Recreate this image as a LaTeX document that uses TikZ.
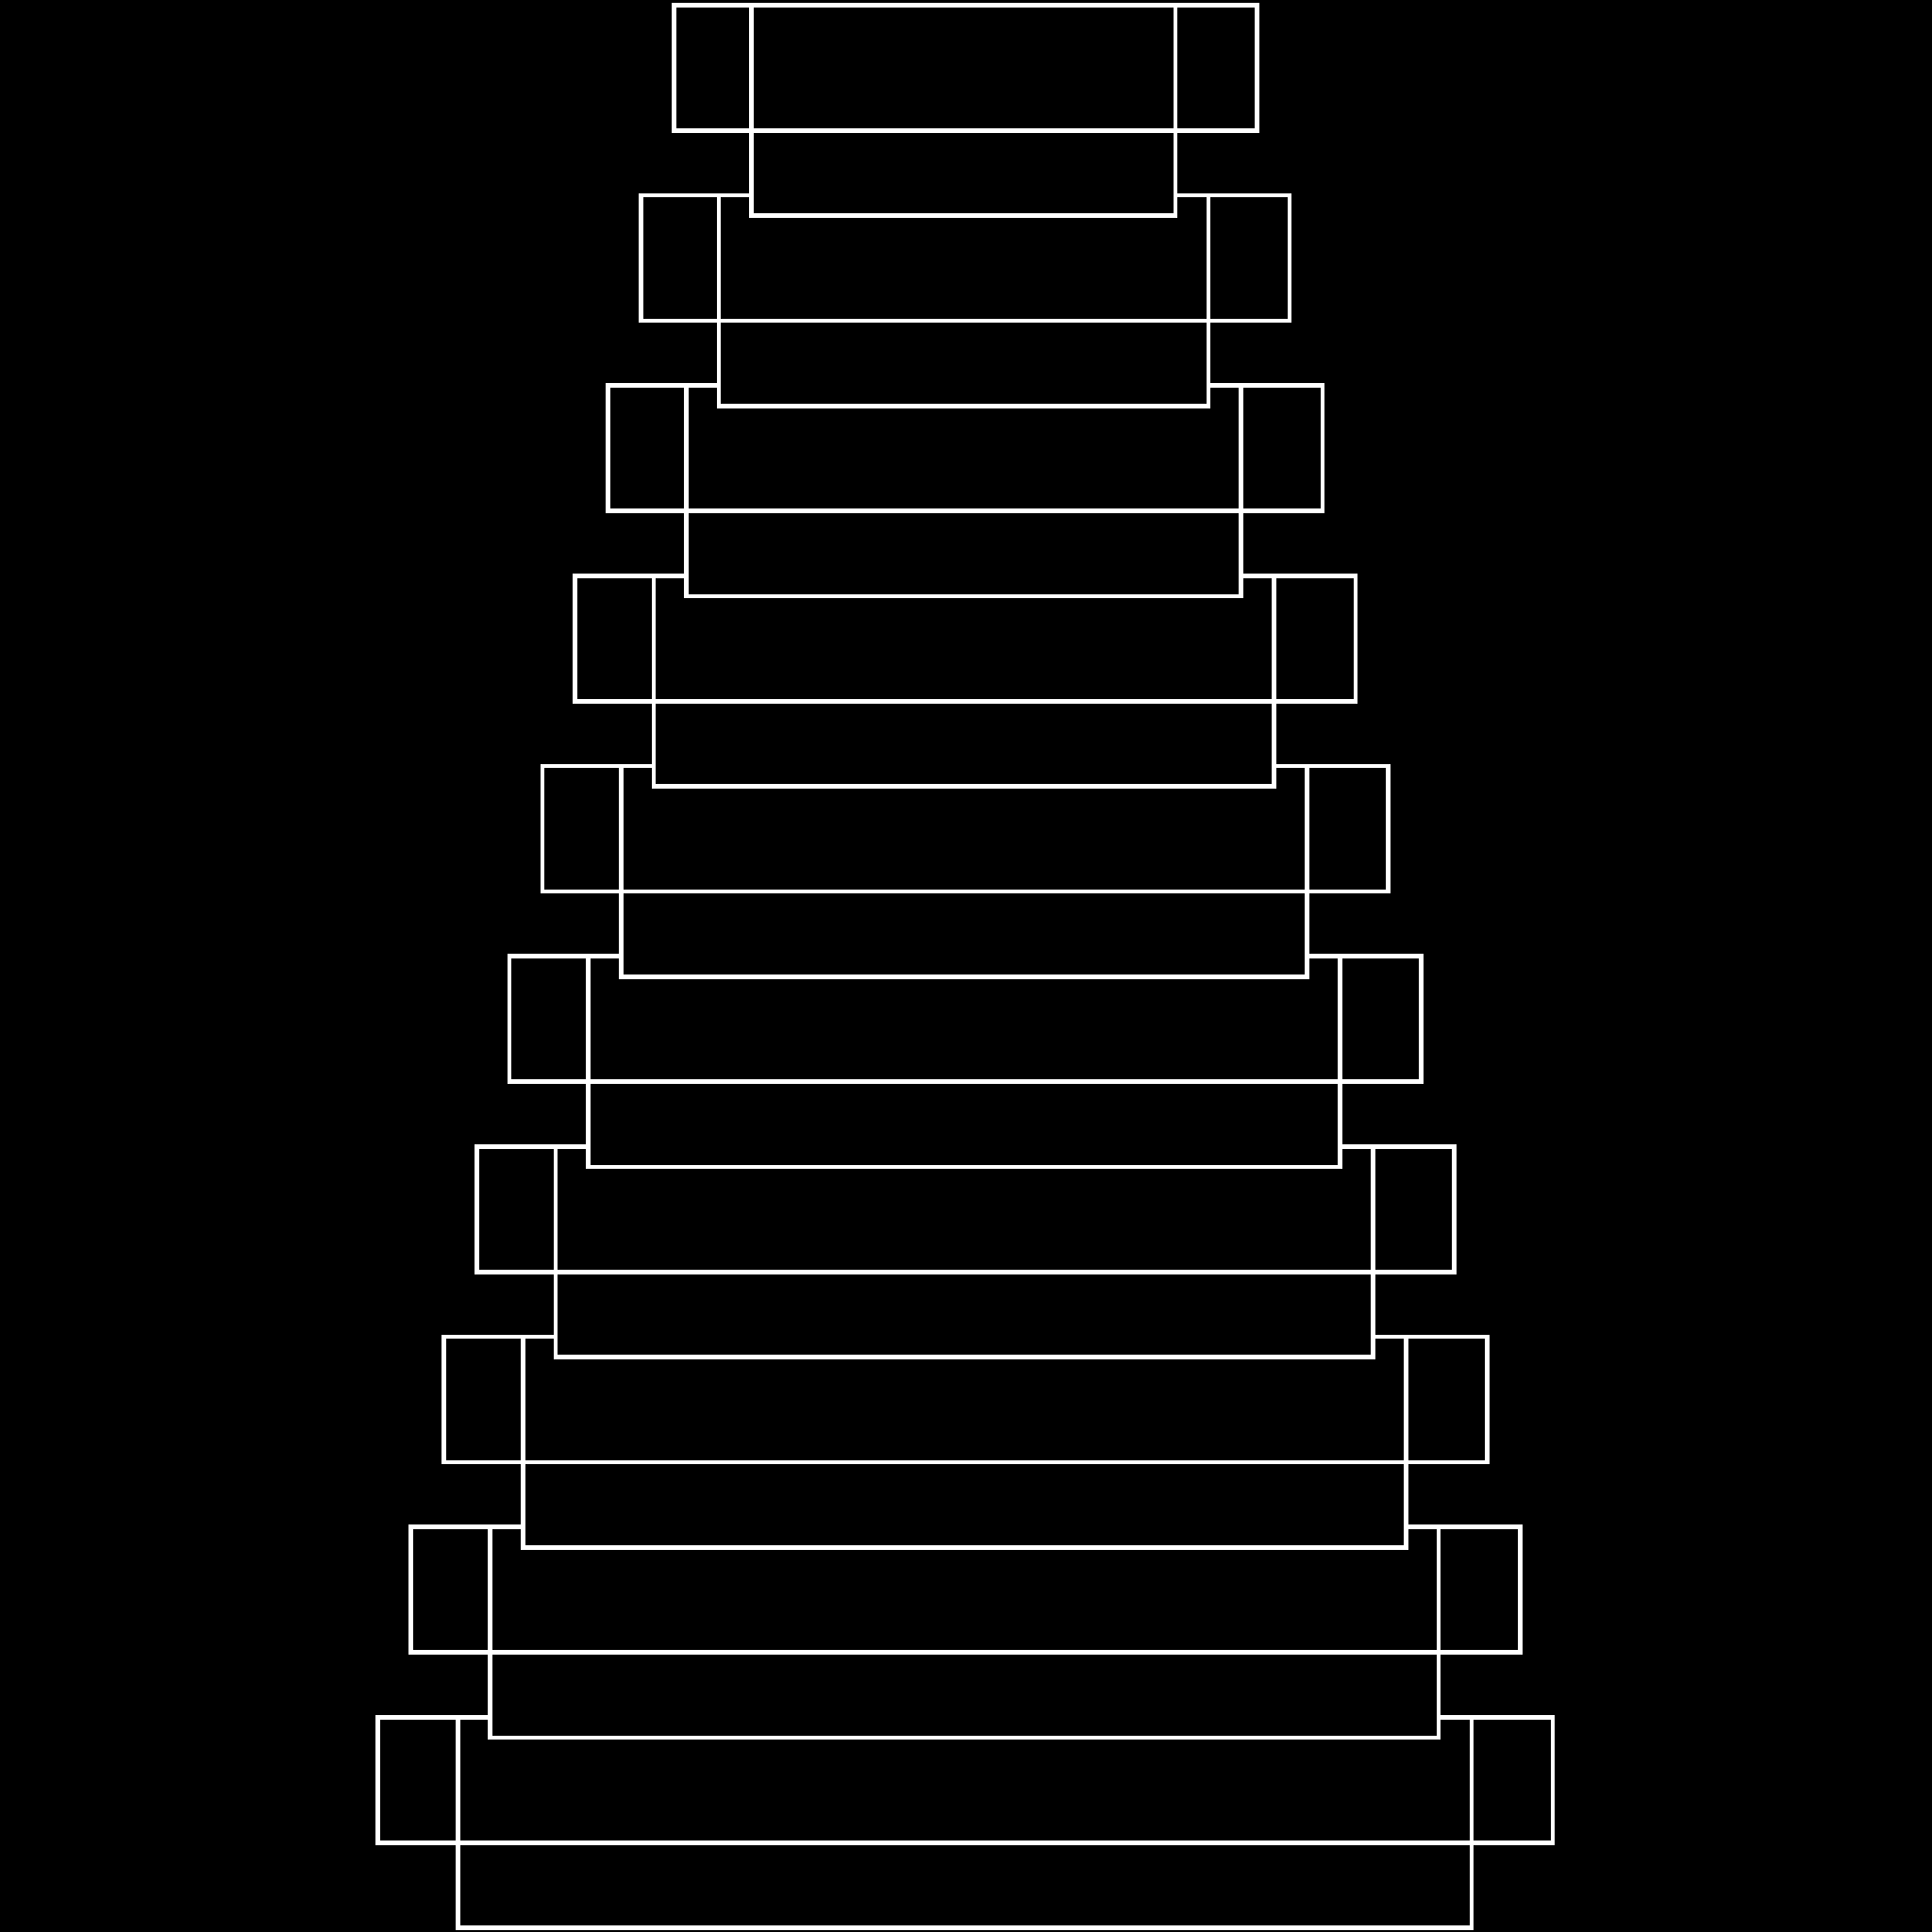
\documentclass[tikz,border=0pt]{standalone}
\begin{document}
\begin{tikzpicture}[x=0.01cm,y=-0.01cm,
  core/.style={draw=white,line width=0.036cm}]
\fill[black] (0,0) rectangle (1568,1568);
\useasboundingbox (0,0) rectangle (1568,1568);
\foreach \k in {9,8,...,0}{
  \pgfmathsetmacro{\T}{4+154.4*\k}
  \pgfmathsetmacro{\M}{\T+102}
  \pgfmathsetmacro{\B}{\T+171}
  \pgfmathsetmacro{\CL}{610-26.5*\k}
  \pgfmathsetmacro{\CR}{954+26.7*\k}
  \pgfmathsetmacro{\LL}{547-26.7*\k}
  \pgfmathsetmacro{\RR}{1020+26.7*\k}
  \draw[core] (\LL,\T) rectangle (\CL,\M);
  \draw[core] (\CL,\T) rectangle (\CR,\M);
  \draw[core] (\CR,\T) rectangle (\RR,\M);
  \fill[black] (\CL,\M) rectangle (\CR,\B);
  \draw[core] (\CL,\M) rectangle (\CR,\B);
}
\end{tikzpicture}
\end{document}
